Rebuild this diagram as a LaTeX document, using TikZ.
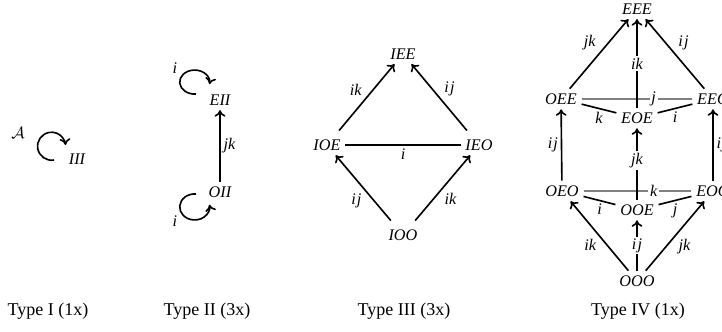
\documentclass[tikz,border=0pt]{standalone}
\usepackage{fontspec}
\setmainfont{Liberation Serif}
\usetikzlibrary{arrows.meta}
\begin{document}
\begin{tikzpicture}[x=0.555pt,y=-0.555pt,
  st/.style={font=\fontsize{9}{10}\selectfont\itshape, inner sep=2.5pt},
  lb/.style={font=\fontsize{9}{10}\selectfont\itshape, inner sep=1.5pt, text=black},
  onl/.style={lb, fill=white, inner sep=1pt},
  arr/.style={line width=0.9pt, -{To[length=3.6pt,width=6pt]}},
  ln/.style={line width=0.9pt},
  gl/.style={line width=0.9pt, gray},
  captext/.style={font=\fontsize{10}{12}\selectfont, inner sep=0pt}]
\useasboundingbox (0,0) rectangle (722,331);

% ---------- Type I ----------
\node[st] (III) at (77,159) {III};
\node[lb] (A) at (18,133) {$\mathcal{A}$};
\coordinate (l1) at ([shift={(-23,1)}]III.center);
\draw[arr] (l1) arc[start angle=80, end angle=355, radius=14];
\node[captext] (c1) at (48,311) {Type I (1x)};

% ---------- Type II ----------
\node[st] (EII) at (220,100) {EII};
\node[st] (OII) at (220,192) {OII};
\coordinate (l2) at ([shift={(-24,-6)}]EII.center);
\coordinate (l3) at ([shift={(-24,2)}]OII.center);
\draw[arr] (l2) arc[start angle=85, end angle=370, x radius=15, y radius=12];
\draw[arr] (l3) arc[start angle=275, end angle=-10, x radius=15, y radius=13];
\node[lb] (i1) at (175,68) {i};
\node[lb] (i2) at (175,221) {i};
\draw[arr] (OII) -- node[lb, right, pos=0.5] {jk} (EII);
\node[captext] (c2) at (207,311) {Type II (3x)};

% ---------- Type III ----------
\node[st] (IEE) at (403,54) {IEE};
\node[st] (IOE) at (327,145) {IOE};
\node[st] (IEO) at (479,145) {IEO};
\node[st] (IOO) at (403,235) {IOO};
\draw[ln] (IOE) -- node[lb, below] {i} (IEO);
\draw[arr, shorten <=3pt] (IOE) -- node[lb, above left] {ik} (IEE);
\draw[arr, shorten <=3pt] (IEO) -- node[lb, above right] {i\kern0.6pt j} (IEE);
\draw[arr, shorten <=3pt] (IOO) -- node[lb, below left] {i\kern0.6pt j} (IOE);
\draw[arr, shorten <=3pt] (IOO) -- node[lb, below right] {ik} (IEO);
\node[captext] (c3) at (404,311) {Type III (3x)};

% ---------- Type IV ----------
\node[st] (EEE) at (637,9) {EEE};
\node[st] (OEE) at (561,99) {OEE};
\node[st] (EEO) at (713,99) {EEO};
\node[st] (EOE) at (637,118) {EOE};
\node[st] (OEO) at (562,191) {OEO};
\node[st] (EOO) at (713,191) {EOO};
\node[st] (OOE) at (637,210) {OOE};
\node[st] (OOO) at (637,281) {OOO};

\draw[gl] (OEE) -- node[onl, pos=0.65] {j} (EEO);
\draw[gl] (OEO) -- node[onl, pos=0.65] {k} (EOO);

\draw[arr] (OEE) -- node[lb, above left] {jk} (EEE);
\draw[arr] (EEO) -- node[lb, above right] {i\kern0.6pt j} (EEE);
\draw[arr] (EOE) -- node[onl] {ik} (EEE);
\draw[ln] (OEE) -- node[lb, below] {k} (EOE);
\draw[ln] (EOE) -- node[lb, below] {i} (EEO);
\draw[arr] (OEO) -- node[lb, left] {i\kern0.6pt j} (OEE);
\draw[arr] (EOO) -- node[lb, right] {i\kern0.6pt j} (EEO);
\draw[arr] (OOE) -- node[onl, pos=0.55] {jk} (EOE);
\draw[ln] (OEO) -- node[lb, below] {i} (OOE);
\draw[ln] (OOE) -- node[lb, below] {j} (EOO);
\draw[arr] (OOO) -- node[lb, below left] {ik} (OEO);
\draw[arr] (OOO) -- node[onl] {i\kern0.6pt j} (OOE);
\draw[arr] (OOO) -- node[lb, below right] {jk} (EOO);
\node[captext] (c4) at (638,311) {Type IV (1x)};
\end{tikzpicture}
\end{document}
